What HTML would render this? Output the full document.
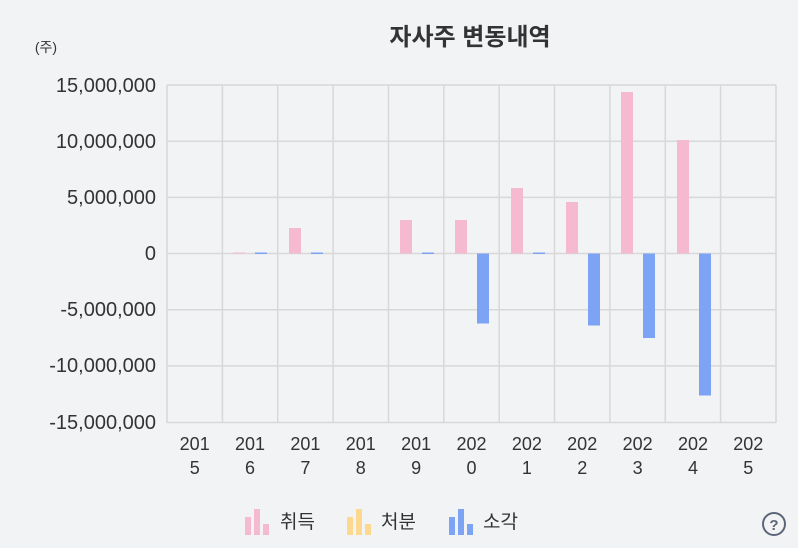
<!DOCTYPE html>
<html><head><meta charset="utf-8"><style>
html,body{margin:0;padding:0;background:#fff}
svg{display:block}
text{font-family:"Liberation Sans","Noto Sans CJK KR",sans-serif;fill:#333}
</style></head><body>
<svg width="798" height="552" xmlns="http://www.w3.org/2000/svg">
<rect x="0" y="0" width="798" height="548" fill="#f2f3f5"/>
<text x="470" y="45" text-anchor="middle" font-size="24" font-weight="bold" fill="#222">자사주 변동내역</text>
<text x="46" y="52" text-anchor="middle" font-size="14">(주)</text>
<g stroke="#d8d8d8" stroke-width="1.5">
<line x1="167" y1="85" x2="776" y2="85"/><line x1="167" y1="141.2" x2="776" y2="141.2"/>
<line x1="167" y1="197.4" x2="776" y2="197.4"/><line x1="167" y1="253.5" x2="776" y2="253.5"/>
<line x1="167" y1="309.7" x2="776" y2="309.7"/><line x1="167" y1="365.9" x2="776" y2="365.9"/>
<line x1="167" y1="422.5" x2="776" y2="422.5"/>
<line x1="167" y1="85" x2="167" y2="423"/><line x1="222.4" y1="85" x2="222.4" y2="423"/>
<line x1="277.7" y1="85" x2="277.7" y2="423"/><line x1="333.1" y1="85" x2="333.1" y2="423"/>
<line x1="388.5" y1="85" x2="388.5" y2="423"/><line x1="443.8" y1="85" x2="443.8" y2="423"/>
<line x1="499.2" y1="85" x2="499.2" y2="423"/><line x1="554.5" y1="85" x2="554.5" y2="423"/>
<line x1="609.9" y1="85" x2="609.9" y2="423"/><line x1="665.3" y1="85" x2="665.3" y2="423"/>
<line x1="720.6" y1="85" x2="720.6" y2="423"/><line x1="776" y1="85" x2="776" y2="423"/>
</g>
<g font-size="20" text-anchor="end">
<text x="156" y="92">15,000,000</text><text x="156" y="148">10,000,000</text>
<text x="156" y="204">5,000,000</text><text x="156" y="260">0</text>
<text x="156" y="316">-5,000,000</text><text x="156" y="372">-10,000,000</text>
<text x="156" y="429">-15,000,000</text>
</g>
<g fill="#f5b9d0">
<rect x="233" y="252.5" width="12" height="1"/>
<rect x="289" y="228" width="12" height="25.5"/>
<rect x="400" y="220" width="12" height="33.5"/>
<rect x="455" y="220" width="12" height="33.5"/>
<rect x="511" y="188" width="12" height="65.5"/>
<rect x="566" y="202" width="12" height="51.5"/>
<rect x="621" y="92" width="12" height="161.5"/>
<rect x="677" y="140" width="12" height="113.5"/>
</g>
<g fill="#7da3f5">
<rect x="255" y="252.5" width="12" height="1.5"/>
<rect x="311" y="252.5" width="12" height="1.5"/>
<rect x="422" y="252.5" width="12" height="1.5"/>
<rect x="477" y="253.5" width="12" height="70"/>
<rect x="533" y="252.5" width="12" height="1.5"/>
<rect x="588" y="253.5" width="12" height="72"/>
<rect x="643" y="253.5" width="12" height="84.5"/>
<rect x="699" y="253.5" width="12" height="142"/>
</g>
<g font-size="18" text-anchor="middle">
<text x="194.7" y="450">201</text><text x="194.7" y="474">5</text>
<text x="250" y="450">201</text><text x="250" y="474">6</text>
<text x="305.4" y="450">201</text><text x="305.4" y="474">7</text>
<text x="360.8" y="450">201</text><text x="360.8" y="474">8</text>
<text x="416.1" y="450">201</text><text x="416.1" y="474">9</text>
<text x="471.5" y="450">202</text><text x="471.5" y="474">0</text>
<text x="526.9" y="450">202</text><text x="526.9" y="474">1</text>
<text x="582.2" y="450">202</text><text x="582.2" y="474">2</text>
<text x="637.6" y="450">202</text><text x="637.6" y="474">3</text>
<text x="693" y="450">202</text><text x="693" y="474">4</text>
<text x="748.3" y="450">202</text><text x="748.3" y="474">5</text>
</g>
<g fill="#f5b9d0"><rect x="245" y="517" width="6" height="18"/><rect x="254" y="509" width="6" height="26"/><rect x="263" y="524" width="6" height="11"/></g>
<text x="280" y="528" font-size="19">취득</text>
<g fill="#fcd98e"><rect x="347" y="517" width="6" height="18"/><rect x="356" y="509" width="6" height="26"/><rect x="365" y="524" width="6" height="11"/></g>
<text x="381" y="528" font-size="19">처분</text>
<g fill="#7da3f5"><rect x="449" y="517" width="6" height="18"/><rect x="458" y="509" width="6" height="26"/><rect x="467" y="524" width="6" height="11"/></g>
<text x="483" y="528" font-size="19">소각</text>
<circle cx="774" cy="524" r="11" fill="none" stroke="#5a6678" stroke-width="2"/>
<text x="774" y="530" text-anchor="middle" font-size="15" font-weight="bold" style="fill:#5a6678">?</text>
</svg>
</body></html>
